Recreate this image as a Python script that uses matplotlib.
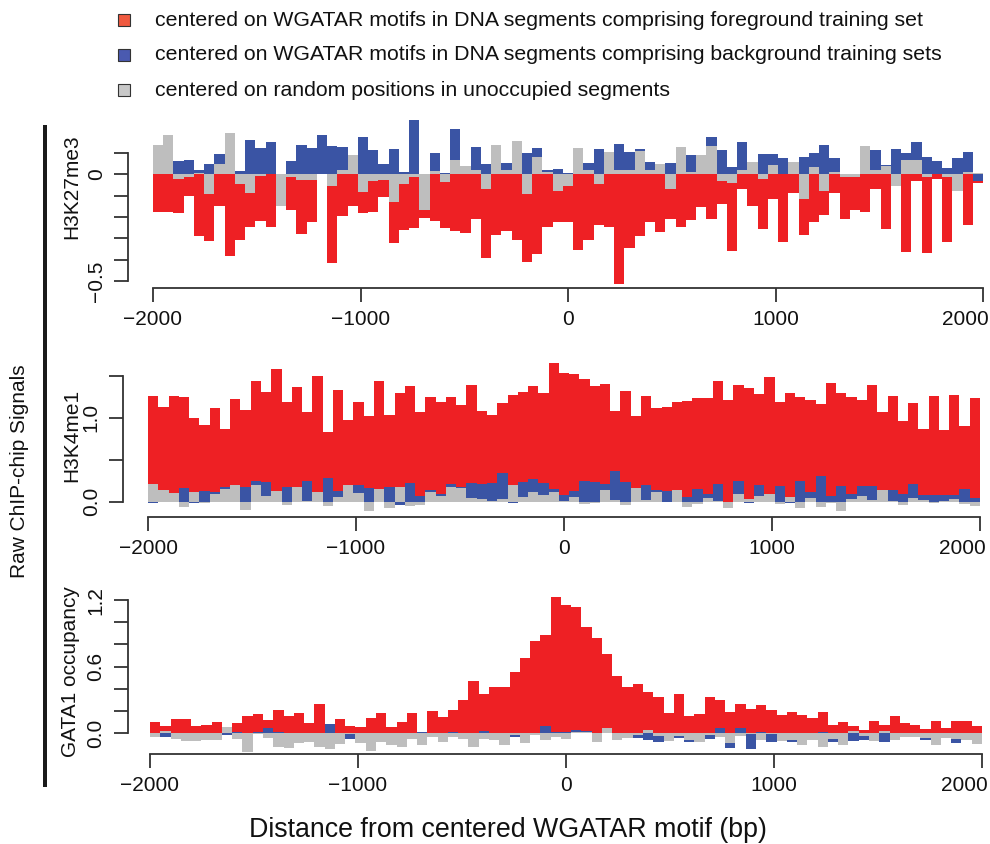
import numpy as np
import matplotlib
matplotlib.use("Agg")
import matplotlib.pyplot as plt
from matplotlib.patches import Rectangle
from matplotlib.transforms import ScaledTranslation

plt.rcParams['font.family'] = ['Liberation Sans', 'DejaVu Sans']

# ---------------- data (81 bins from -2000 to 2000 bp) ----------------
x_min, x_max, n_bins = -2000, 2000, 81

h3k27_fg = [-0.174, -0.178, -0.183, -0.103, -0.288, -0.311, -0.147, -0.382, -0.307, -0.246,
            -0.218, -0.246, -0.120, -0.166, -0.279, -0.222, 0.020, -0.415, -0.194, -0.147,
            -0.180, -0.175, -0.105, -0.321, -0.260, -0.250, -0.203, -0.218, -0.250, -0.264,
            -0.274, -0.208, -0.391, -0.283, -0.264, -0.307, -0.410, -0.372, -0.246, -0.222,
            -0.221, -0.354, -0.307, -0.236, -0.249, -0.512, -0.343, -0.291, -0.221, -0.272,
            -0.207, -0.249, -0.216, -0.155, -0.211, -0.141, -0.357, -0.066, -0.146, -0.254,
            -0.117, -0.319, -0.085, -0.282, -0.225, -0.192, -0.089, -0.211, -0.169, -0.174,
            -0.070, -0.254, -0.030, -0.362, -0.030, -0.371, -0.023, -0.319, -0.010, -0.235, -0.040]
h3k27_bg = [0.060, 0.080, 0.064, 0.069, 0.022, 0.050, 0.097, 0.100, 0.017, 0.163,
            0.125, 0.153, 0.000, 0.064, 0.139, 0.125, 0.186, 0.135, 0.130, 0.050,
            0.177, 0.116, 0.050, 0.120, 0.013, 0.257, 0.003, 0.102, 0.008, 0.214,
            0.020, 0.130, 0.050, 0.080, 0.055, 0.100, 0.102, 0.125, 0.022, 0.027,
            0.005, 0.050, 0.055, 0.120, 0.050, 0.144, 0.106, 0.120, 0.059, 0.030,
            0.055, 0.050, 0.092, 0.050, 0.177, 0.116, 0.036, 0.153, 0.030, 0.097,
            0.097, 0.078, 0.030, 0.083, 0.102, 0.139, 0.078, 0.003, 0.000, 0.050,
            0.116, 0.045, 0.120, 0.102, 0.153, 0.083, 0.064, 0.031, 0.078, 0.106, -0.033]
h3k27_rand = [0.139, 0.186, -0.020, -0.012, 0.005, -0.090, 0.050, 0.196, -0.044, -0.086,
              -0.006, 0.003, -0.147, -0.010, -0.025, -0.025, 0.003, -0.053, 0.022, 0.092,
              -0.081, -0.030, -0.025, -0.128, -0.044, -0.010, -0.166, 0.017, -0.034, 0.069,
              0.040, 0.022, -0.067, 0.139, 0.022, 0.158, -0.090, 0.083, 0.013, -0.077,
              -0.053, 0.125, 0.022, -0.044, 0.106, 0.022, 0.022, 0.111, 0.022, 0.050,
              -0.067, 0.130, 0.013, 0.092, 0.135, -0.030, -0.039, 0.022, 0.059, -0.020,
              0.045, 0.003, 0.059, -0.114, 0.036, -0.080, 0.013, -0.013, -0.013, 0.135,
              0.022, 0.040, -0.056, 0.069, 0.069, -0.013, 0.003, -0.010, -0.077, 0.013, 0.008]

h3k4_fg = [1.258, 1.127, 1.258, 1.246, 0.996, 0.913, 1.115, 0.865, 1.222, 1.091,
           1.437, 1.306, 1.579, 1.187, 1.365, 1.067, 1.496, 0.829, 1.329, 0.972,
           1.187, 1.020, 1.437, 1.032, 1.294, 1.377, 1.067, 1.246, 1.187, 1.246,
           1.151, 1.389, 1.079, 1.032, 1.175, 1.270, 1.306, 1.377, 1.294, 1.651,
           1.532, 1.520, 1.460, 1.377, 1.400, 1.079, 1.317, 1.020, 1.258, 1.115,
           1.127, 1.187, 1.198, 1.234, 1.234, 1.437, 1.210, 1.389, 1.353, 1.282,
           1.484, 1.187, 1.294, 1.246, 1.210, 1.163, 1.413, 1.294, 1.246, 1.210,
           1.389, 1.067, 1.258, 0.960, 1.175, 0.865, 1.258, 0.853, 1.270, 0.900, 1.234]
h3k4_bg = [-0.010, 0.050, 0.050, 0.163, -0.010, 0.127, 0.115, 0.175, 0.100, 0.175,
           0.246, 0.234, 0.080, 0.175, 0.100, 0.246, 0.080, 0.282, 0.127, 0.100,
           0.198, 0.163, 0.100, 0.175, -0.040, 0.222, 0.067, 0.139, 0.091, 0.210,
           0.175, 0.222, 0.210, 0.222, 0.341, -0.010, 0.234, 0.270, 0.222, 0.151,
           0.079, 0.127, 0.246, 0.234, 0.210, 0.365, 0.234, 0.100, 0.198, 0.139,
           0.127, 0.100, 0.056, 0.151, 0.091, 0.210, 0.000, 0.246, -0.010, 0.198,
           0.050, 0.187, -0.010, 0.246, 0.115, 0.306, 0.067, 0.187, 0.091, 0.187,
           0.187, 0.100, 0.139, 0.091, 0.210, 0.079, 0.079, 0.079, 0.079, 0.151, 0.044]
h3k4_rand = [0.210, 0.139, 0.103, -0.063, 0.115, -0.010, 0.091, 0.151, 0.198, -0.099,
             0.198, 0.067, 0.127, -0.040, 0.175, 0.012, 0.115, -0.052, 0.056, 0.198,
             0.103, -0.111, 0.151, -0.075, 0.175, -0.052, -0.040, 0.115, 0.067, 0.175,
             0.163, 0.044, 0.032, 0.008, 0.032, 0.198, 0.056, 0.115, 0.079, 0.115,
             0.012, 0.056, -0.024, -0.010, 0.139, 0.020, -0.036, 0.163, 0.020, 0.115,
             0.000, 0.139, -0.060, -0.024, 0.044, 0.012, -0.071, 0.091, 0.032, 0.067,
             0.091, -0.024, 0.056, -0.071, 0.044, -0.060, -0.010, -0.107, 0.032, 0.067,
             0.020, 0.139, 0.012, -0.036, 0.044, 0.020, -0.010, 0.008, 0.032, -0.024, -0.048]

gata1_fg = [0.096, 0.060, 0.124, 0.124, 0.060, 0.069, 0.096, 0.030, 0.087, 0.151,
            0.169, 0.115, 0.205, 0.151, 0.178, 0.087, 0.259, 0.050, 0.124, 0.060,
            0.051, 0.133, 0.178, 0.051, 0.096, 0.178, -0.020, 0.196, 0.142, 0.205,
            0.295, 0.467, 0.350, 0.413, 0.413, 0.549, 0.675, 0.829, 0.883, 1.227,
            1.155, 1.137, 0.956, 0.856, 0.711, 0.513, 0.413, 0.440, 0.368, 0.323,
            0.178, 0.350, 0.151, 0.169, 0.323, 0.295, 0.187, 0.259, 0.214, 0.250,
            0.205, 0.160, 0.187, 0.160, 0.133, 0.187, 0.069, 0.096, 0.060, 0.024,
            0.106, 0.069, 0.151, 0.087, 0.069, 0.033, 0.106, 0.042, 0.106, 0.106, 0.060]
gata1_bg = [-0.010, -0.036, -0.010, -0.010, -0.010, -0.010, -0.010, -0.018, 0.005, -0.010,
            0.005, 0.042, 0.005, -0.010, -0.010, -0.010, -0.010, 0.078, -0.010, -0.054,
            -0.010, -0.010, -0.010, -0.010, -0.010, -0.010, 0.005, -0.010, -0.010, 0.005,
            -0.010, -0.010, 0.018, -0.010, -0.010, -0.036, -0.010, -0.010, 0.060, 0.005,
            0.005, 0.027, 0.018, -0.010, 0.020, -0.010, -0.010, -0.045, -0.063, -0.081,
            -0.010, -0.045, -0.081, 0.000, -0.054, 0.042, -0.136, 0.042, -0.145, 0.005,
            -0.081, -0.010, -0.081, -0.010, -0.010, 0.005, -0.081, -0.010, -0.072, -0.063,
            -0.010, -0.081, -0.010, -0.010, -0.010, -0.063, -0.010, -0.010, -0.090, -0.010, -0.010]
gata1_rand = [-0.036, 0.018, -0.054, -0.072, -0.072, -0.063, -0.063, 0.051, -0.054, -0.172,
              -0.010, -0.045, -0.127, -0.136, -0.090, -0.081, -0.127, -0.145, -0.100, -0.010,
              -0.090, -0.163, -0.081, -0.109, -0.127, -0.054, -0.109, -0.036, -0.081, -0.036,
              -0.054, -0.127, -0.054, -0.063, -0.109, -0.020, -0.090, -0.018, -0.063, -0.036,
              -0.054, 0.010, 0.005, -0.081, 0.042, -0.063, -0.045, -0.018, 0.027, -0.027,
              -0.072, -0.030, -0.063, -0.081, -0.018, -0.036, -0.090, -0.027, -0.010, -0.063,
              -0.010, -0.072, -0.063, -0.109, -0.063, -0.127, -0.054, -0.109, 0.018, -0.027,
              -0.072, 0.018, -0.063, -0.036, -0.036, -0.045, -0.109, -0.045, -0.054, -0.063, -0.100]

panel_names = ["H3K27me3", "H3K4me1", "GATA1 occupancy"]
legend_labels = ["centered on WGATAR motifs in DNA segments comprising foreground training set",
                 "centered on WGATAR motifs in DNA segments comprising background training sets",
                 "centered on random positions in unoccupied segments"]
x_ticks = [-2000, -1000, 0, 1000, 2000]

for arr in [h3k27_fg, h3k27_bg, h3k27_rand, h3k4_fg, h3k4_bg, h3k4_rand,
            gata1_fg, gata1_bg, gata1_rand]:
    assert len(arr) == n_bins, len(arr)

# ---------------- styling ----------------
RED = "#EE2024"
BLUE = "#3A54A4"
GRAY = "#BEBEBE"
AXC = "#333333"
W, H = 990, 844
fig = plt.figure(figsize=(W / 100, H / 100), dpi=100)


def ax_at(left, top, right, bottom):
    return fig.add_axes([left / W, 1 - bottom / H, (right - left) / W, (bottom - top) / H])


edges = np.linspace(x_min, x_max, n_bins + 1)
lefts = edges[:-1]
width = edges[1] - edges[0]

panels = [
    dict(box=(153, 118, 983, 288), ylim=(-0.533, 0.265), yticks=np.arange(-0.5, 0.11, 0.1),
         ylabels={0.0: "0", -0.5: "\u22120.5"}, data=(h3k27_fg, h3k27_bg, h3k27_rand),
         yspine_x=135, ylab_pos=(72, 187)),
    dict(box=(148, 362, 980, 517), ylim=(-0.182, 1.663), yticks=np.arange(0, 1.51, 0.5),
         ylabels={0.0: "0.0", 1.0: "1.0"}, data=(h3k4_fg, h3k4_bg, h3k4_rand),
         yspine_x=130, ylab_pos=(72, 435)),
    dict(box=(150, 596, 982, 754), ylim=(-0.19, 1.238), yticks=np.arange(0, 1.21, 0.2),
         ylabels={0.0: "0.0", 0.6: "0.6", 1.2: "1.2"}, data=(gata1_fg, gata1_bg, gata1_rand),
         yspine_x=134, ylab_pos=(71, 672)),
]

for p, name in zip(panels, panel_names):
    l, t, r, b = p["box"]
    ax = ax_at(l, t, r, b)
    fg, bg, rnd = p["data"]
    for vals, col in ((fg, RED), (bg, BLUE), (rnd, GRAY)):
        ax.bar(lefts, vals, width=width, align='edge', color=col, linewidth=0)
    ax.set_xlim(x_min, x_max)
    ax.set_ylim(*p["ylim"])
    for s in ("top", "right"):
        ax.spines[s].set_visible(False)
    ax.spines["left"].set_position(("outward", l - p["yspine_x"]))
    ax.spines["left"].set_bounds(p["yticks"][0], p["yticks"][-1])
    ax.spines["bottom"].set_bounds(x_min, x_max)
    for s in ("left", "bottom"):
        ax.spines[s].set_color(AXC)
        ax.spines[s].set_linewidth(1.3)
    ax.set_xticks(x_ticks)
    ax.set_xticklabels([("\u2212" + str(-v)) if v < 0 else str(v) for v in x_ticks])
    ax.set_yticks(p["yticks"])
    labs = []
    for v in p["yticks"]:
        key = None
        for k in p["ylabels"]:
            if abs(k - v) < 1e-6:
                key = k
        labs.append(p["ylabels"][key] if key is not None else "")
    ax.set_yticklabels(labs)
    ax.tick_params(axis="both", length=10, width=1.3, color=AXC, labelsize=15, labelcolor="#111111")
    ax.tick_params(axis="x", pad=6)
    ax.tick_params(axis="y", pad=6, labelrotation=90)
    for lab in ax.get_yticklabels():
        lab.set_va("center")
    # the last x label sits inside the figure, as in the reference
    last = ax.get_xticklabels()[-1]
    last.set_ha("right")
    last.set_transform(last.get_transform() + ScaledTranslation(6 / 100, 0, fig.dpi_scale_trans))
    fig.text(p["ylab_pos"][0] / W, 1 - p["ylab_pos"][1] / H, name, rotation=90,
             ha="center", va="center", fontsize=15, color="#111111")

# left bracket bar and overall label
fig.add_artist(Rectangle((43 / W, 1 - 787 / H), 4 / W, (787 - 125) / H,
                         transform=fig.transFigure, color="#1a1a1a", linewidth=0))
fig.text(20 / W, 1 - 471 / H, "Raw ChIP-chip Signals", rotation=90, ha="center", va="center",
         fontsize=15, color="#111111")

# x label
fig.text(508 / W, 1 - 830 / H, "Distance from centered WGATAR motif (bp)", ha="center",
         va="center", fontsize=19.3, color="#111111")

# legend
leg_cols = ["#F05A40", "#4A5AB0", "#C8C8C8"]
for i, (lab, col) in enumerate(zip(legend_labels, leg_cols)):
    yc = 20 + 35 * i
    fig.add_artist(Rectangle((118 / W, 1 - (yc + 6) / H), 12 / W, 12 / H,
                             transform=fig.transFigure, facecolor=col, edgecolor="#333333",
                             linewidth=0.8))
    fig.text(155 / W, 1 - yc / H, lab, ha="left", va="center", fontsize=15.3, color="#111111")

fig.savefig("out.png", dpi=100)
